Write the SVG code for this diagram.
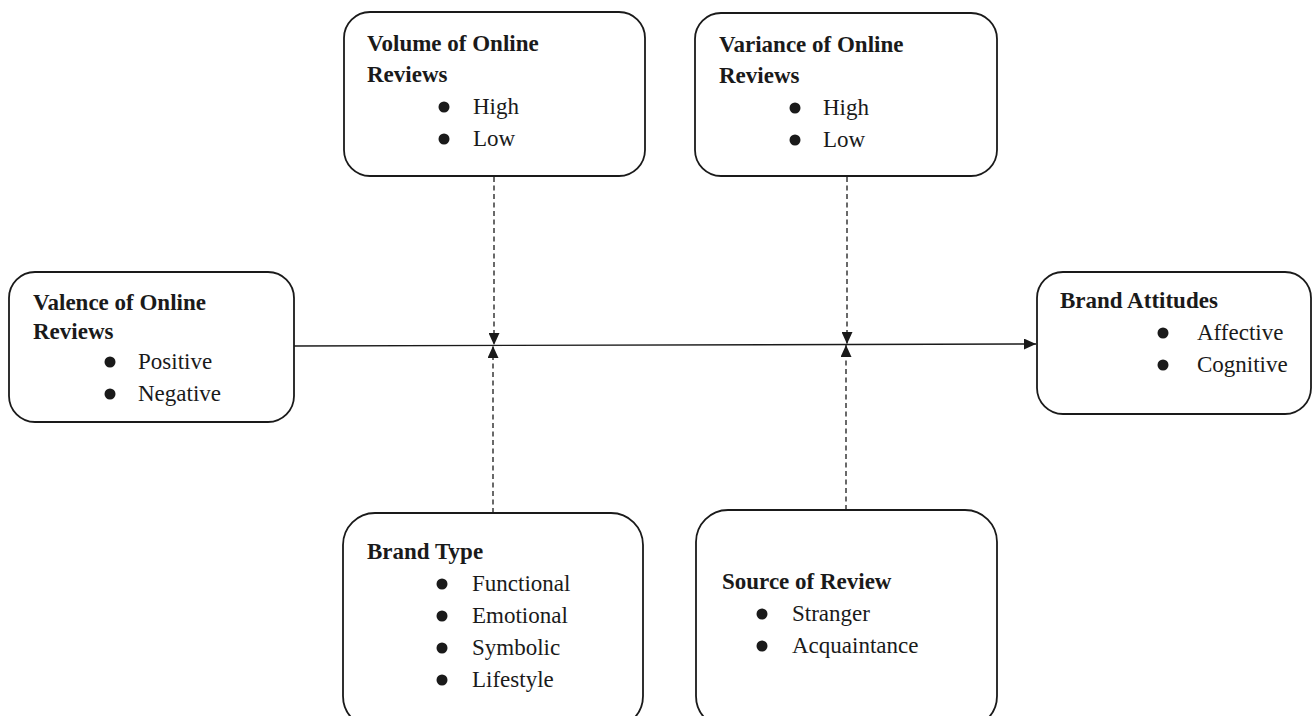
<svg xmlns="http://www.w3.org/2000/svg" width="1312" height="716" viewBox="0 0 1312 716">
<defs>
<style>
.box{fill:#fff;stroke:#1a1a1a;stroke-width:1.8}
.t{font-family:"Liberation Serif","Times New Roman",serif;font-size:23px;font-weight:bold;fill:#1a1a1a}
.i{font-family:"Liberation Serif","Times New Roman",serif;font-size:23px;fill:#1a1a1a}
.b{fill:#1a1a1a}
.ln{stroke:#1a1a1a;stroke-width:1.4;fill:none}
.dash{stroke:#1a1a1a;stroke-width:1.3;fill:none;stroke-dasharray:5,3.5}
</style>
<marker id="ah" markerUnits="userSpaceOnUse" markerWidth="12" markerHeight="11" refX="12" refY="5.5" orient="auto">
<path d="M0,0 L12,5.5 L0,11 z" fill="#1a1a1a"/>
</marker>
</defs>
<rect width="1312" height="716" fill="#fff"/>
<g id="connectors">
<line class="ln" x1="294" y1="346" x2="1036" y2="344" marker-end="url(#ah)"/>
<line class="dash" x1="494" y1="177" x2="494" y2="345" marker-end="url(#ah)"/>
<line class="dash" x1="493" y1="513" x2="493" y2="346" marker-end="url(#ah)"/>
<line class="dash" x1="847" y1="177" x2="847" y2="344" marker-end="url(#ah)"/>
<line class="dash" x1="846" y1="510" x2="846" y2="345" marker-end="url(#ah)"/>
</g>
<g id="volume">
<rect class="box" x="344" y="12" width="301" height="164" rx="26"/>
<text class="t" x="367" y="51">Volume of Online</text>
<text class="t" x="367" y="82">Reviews</text>
<circle class="b" cx="444" cy="107" r="5.5"/><text class="i" x="473" y="114">High</text>
<circle class="b" cx="444" cy="139" r="5.5"/><text class="i" x="473" y="146">Low</text>
</g>
<g id="variance">
<rect class="box" x="695" y="13" width="302" height="163" rx="26"/>
<text class="t" x="719" y="52">Variance of Online</text>
<text class="t" x="719" y="83">Reviews</text>
<circle class="b" cx="795" cy="108" r="5.5"/><text class="i" x="823" y="115">High</text>
<circle class="b" cx="795" cy="140" r="5.5"/><text class="i" x="823" y="147">Low</text>
</g>
<g id="valence">
<rect class="box" x="9" y="272" width="285" height="150" rx="26"/>
<text class="t" x="33" y="310">Valence of Online</text>
<text class="t" x="33" y="339">Reviews</text>
<circle class="b" cx="110" cy="362" r="5.5"/><text class="i" x="138" y="369">Positive</text>
<circle class="b" cx="110" cy="394" r="5.5"/><text class="i" x="138" y="401">Negative</text>
</g>
<g id="attitudes">
<rect class="box" x="1037" y="272" width="274" height="142" rx="26"/>
<text class="t" x="1060" y="308">Brand Attitudes</text>
<circle class="b" cx="1163" cy="333" r="5.5"/><text class="i" x="1197" y="340">Affective</text>
<circle class="b" cx="1163" cy="365" r="5.5"/><text class="i" x="1197" y="372">Cognitive</text>
</g>
<g id="brandtype">
<rect class="box" x="343" y="513" width="300" height="215" rx="32"/>
<text class="t" x="367" y="559">Brand Type</text>
<circle class="b" cx="442" cy="584" r="5.5"/><text class="i" x="472" y="591">Functional</text>
<circle class="b" cx="442" cy="616" r="5.5"/><text class="i" x="472" y="623">Emotional</text>
<circle class="b" cx="442" cy="648" r="5.5"/><text class="i" x="472" y="655">Symbolic</text>
<circle class="b" cx="442" cy="680" r="5.5"/><text class="i" x="472" y="687">Lifestyle</text>
</g>
<g id="source">
<rect class="box" x="696" y="510" width="301" height="218" rx="32"/>
<text class="t" x="722" y="589">Source of Review</text>
<circle class="b" cx="762" cy="614" r="5.5"/><text class="i" x="792" y="621">Stranger</text>
<circle class="b" cx="762" cy="646" r="5.5"/><text class="i" x="792" y="653">Acquaintance</text>
</g>
</svg>
